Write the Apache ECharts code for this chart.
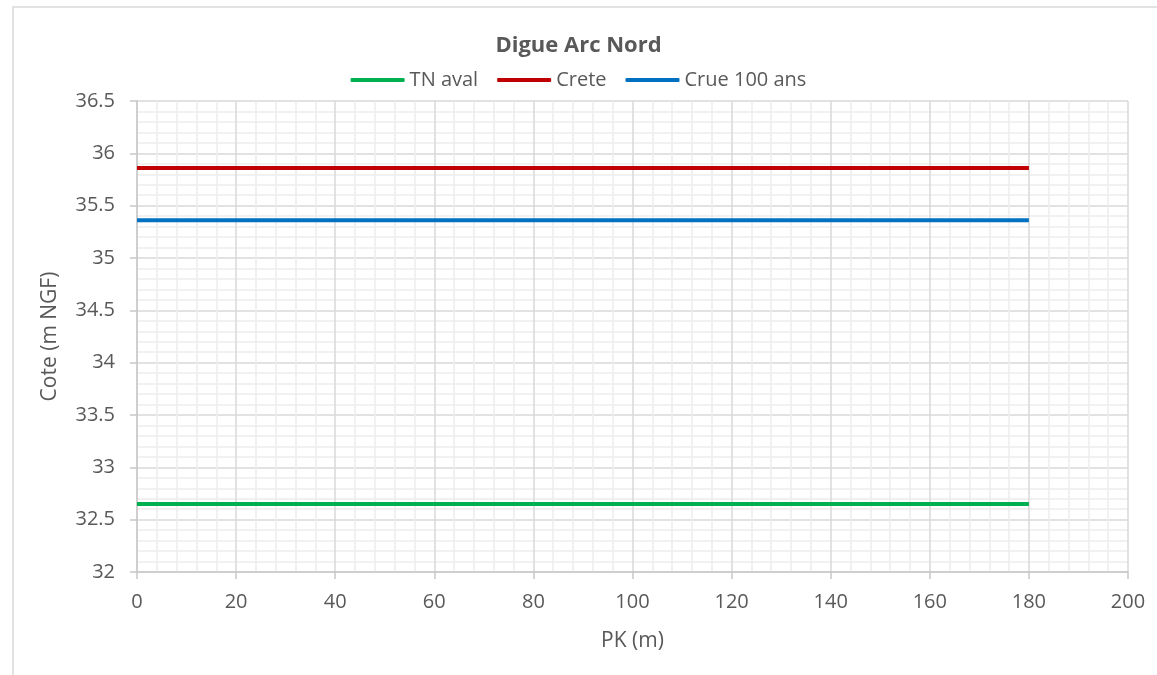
<!DOCTYPE html>
<html>
<head>
<meta charset="utf-8">
<script src="https://cdn.jsdelivr.net/npm/echarts@6/dist/echarts.min.js"></script>
<style>
  html, body { margin: 0; padding: 0; background: #fff; }
  #chart { width: 1157px; height: 675px; }
</style>
</head>
<body>
<div id="chart"></div>
<script>
// Profil en long de la digue : cotes en m NGF le long du PK
const pk = [0, 180];
const tnAval = [32.65, 32.65];
const crete = [35.86, 35.86];
const crue100 = [35.36, 35.36];
const seriesNames = ['TN aval', 'Crete', 'Crue 100 ans'];
const seriesColors = ['#00B050', '#C00000', '#0070C0'];

const FONT = '"Open Sans", "Noto Sans", sans-serif';
const TXT = '#595959';

function pairs(xs, ys) {
  return xs.map((x, i) => [x, ys[i]]);
}

const chart = echarts.init(document.getElementById('chart'), null, { renderer: 'canvas' });

const values = [tnAval, crete, crue100];

chart.setOption({
  animation: false,
  backgroundColor: '#ffffff',
  textStyle: { fontFamily: FONT },
  graphic: [{
    type: 'rect',
    shape: { x: 13, y: 7, width: 1200, height: 720 },
    style: { fill: 'none', stroke: '#D9D9D9', lineWidth: 1.5 },
    silent: true,
    z: -10
  }],
  title: {
    text: 'Digue Arc Nord',
    left: 'center',
    top: 30,
    textStyle: { fontFamily: FONT, fontSize: 22, fontWeight: 'bold', color: TXT }
  },
  legend: {
    top: 65,
    left: 'center',
    itemWidth: 54,
    itemHeight: 4,
    itemGap: 19,
    icon: 'roundRect',
    textStyle: { fontFamily: FONT, fontSize: 20, color: TXT },
    data: seriesNames
  },
  grid: { left: 137, right: 29, top: 101, bottom: 103, containLabel: false },
  xAxis: {
    type: 'value',
    min: 0, max: 200, interval: 20,
    name: 'PK (m)',
    nameLocation: 'middle',
    nameGap: 59,
    nameTextStyle: { fontFamily: FONT, fontSize: 21, color: TXT },
    axisLine: { show: true, lineStyle: { color: '#C8C8C8', width: 1.5 } },
    axisTick: { show: true, length: 7, lineStyle: { color: '#C8C8C8', width: 1.5 } },
    axisLabel: { fontFamily: FONT, fontSize: 20, color: TXT, margin: 20 },
    splitLine: { show: true, lineStyle: { color: '#D9D9D9', width: 1.5 } },
    minorTick: { show: false, splitNumber: 5 },
    minorSplitLine: { show: true, lineStyle: { color: '#EDEDED', width: 1.5 } }
  },
  yAxis: {
    type: 'value',
    min: 32, max: 36.5, interval: 0.5,
    name: 'Cote (m NGF)',
    nameLocation: 'middle',
    nameGap: 76,
    nameRotate: 90,
    nameTextStyle: { fontFamily: FONT, fontSize: 21, color: TXT },
    axisLine: { show: true, lineStyle: { color: '#C8C8C8', width: 1.5 } },
    axisTick: { show: true, length: 7, lineStyle: { color: '#C8C8C8', width: 1.5 } },
    axisLabel: { fontFamily: FONT, fontSize: 20, color: TXT, margin: 22 },
    splitLine: { show: true, lineStyle: { color: '#D9D9D9', width: 1.5 } },
    minorTick: { show: false, splitNumber: 5 },
    minorSplitLine: { show: true, lineStyle: { color: '#EDEDED', width: 1.5 } }
  },
  series: seriesNames.map((name, i) => ({
    name: name,
    type: 'line',
    data: pairs(pk, values[i]),
    showSymbol: false,
    symbol: 'none',
    lineStyle: { color: seriesColors[i], width: 4 },
    itemStyle: { color: seriesColors[i] }
  }))
});
</script>
</body>
</html>
